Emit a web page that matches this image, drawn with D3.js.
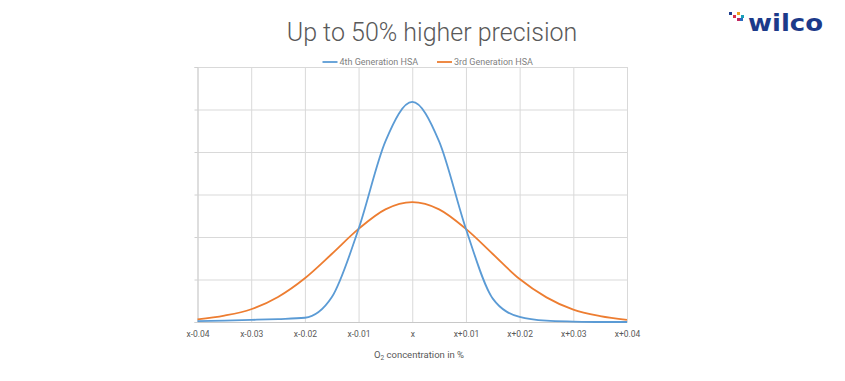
<!DOCTYPE html>
<html>
<head>
<meta charset="utf-8">
<script src="https://cdn.jsdelivr.net/npm/d3@7"></script>
<style>
  html, body { margin: 0; padding: 0; background: #ffffff; }
  svg { display: block; }
</style>
</head>
<body>
<svg id="chart" width="845" height="381"></svg>
<script>
// ---- data ----
const xOffsets = [-0.04, -0.035, -0.03, -0.025, -0.02, -0.015, -0.01, -0.005, 0,
                  0.005, 0.01, 0.015, 0.02, 0.025, 0.03, 0.035, 0.04];
const gen4Values = [0.02, 0.03, 0.05, 0.07, 0.10, 0.58, 2.19, 4.25, 5.18,
                    4.25, 2.19, 0.55, 0.12, 0.03, 0.01, 0.0, 0.0];
const gen3Values = [0.06, 0.15, 0.30, 0.59, 1.03, 1.60, 2.19, 2.65, 2.82,
                    2.65, 2.19, 1.60, 1.01, 0.58, 0.29, 0.14, 0.05];
const tickValues = [-0.04, -0.03, -0.02, -0.01, 0, 0.01, 0.02, 0.03, 0.04];
const tickLabels = ["x-0.04", "x-0.03", "x-0.02", "x-0.01", "x", "x+0.01", "x+0.02", "x+0.03", "x+0.04"];
const yGridValues = [0, 1, 2, 3, 4, 5, 6];
const seriesNames = ["4th Generation HSA", "3rd Generation HSA"];
const seriesColors = ["#5b9bd5", "#ed7d31"];
const titleText = "Up to 50% higher precision";

// ---- layout ----
const svg = d3.select("#chart");
const plot = { left: 197.5, right: 627, top: 67, bottom: 322 };

const x = d3.scaleLinear().domain([-0.04, 0.04]).range([plot.left, plot.right]);
const y = d3.scaleLinear().domain([0, 6]).range([plot.bottom, plot.top]);

const font = "Roboto, 'Open Sans', sans-serif";

// title
svg.append("text")
  .attr("x", 432).attr("y", 41)
  .attr("text-anchor", "middle")
  .attr("font-family", font)
  .attr("font-weight", 300)
  .attr("font-size", 25)
  .attr("fill", "#595959")
  .text(titleText);

// gridlines (horizontal)
const g = svg.append("g");
g.append("g")
  .attr("transform", `translate(${plot.left},0)`)
  .call(d3.axisLeft(y).tickValues(yGridValues).tickSize(-(plot.right - plot.left)).tickFormat(""))
  .call(s => s.select(".domain").remove())
  .call(s => s.selectAll(".tick line").attr("stroke", "#d9d9d9").attr("stroke-width", 1));

// gridlines (vertical)
g.append("g")
  .attr("transform", `translate(0,${plot.top})`)
  .call(d3.axisTop(x).tickValues(tickValues).tickSize(-(plot.bottom - plot.top)).tickFormat(""))
  .call(s => s.select(".domain").remove())
  .call(s => s.selectAll(".tick line").attr("stroke", "#d9d9d9").attr("stroke-width", 1));

// small left tick marks
g.append("g")
  .attr("transform", `translate(${plot.left},0)`)
  .call(d3.axisLeft(y).tickValues(yGridValues).tickSize(3).tickFormat(""))
  .call(s => s.select(".domain").attr("stroke", "#d0d0d0"))
  .call(s => s.selectAll(".tick line").attr("stroke", "#d0d0d0"));

// bottom axis with labels
const xAxis = svg.append("g")
  .attr("transform", `translate(0,${plot.bottom})`)
  .call(d3.axisBottom(x).tickValues(tickValues).tickSize(0).tickPadding(9)
        .tickFormat((d, i) => tickLabels[i]));
xAxis.select(".domain").attr("stroke", "#c8c8c8");
xAxis.selectAll("text")
  .attr("font-family", font)
  .attr("font-size", 8.5)
  .attr("fill", "#595959");

// axis title with subscript
const at = svg.append("text")
  .attr("x", 419).attr("y", 358)
  .attr("text-anchor", "middle")
  .attr("font-family", font)
  .attr("font-size", 9.5)
  .attr("fill", "#595959");
at.append("tspan").text("O");
at.append("tspan").attr("font-size", 6.5).attr("dy", 2).text("2");
at.append("tspan").attr("dy", -2).text(" concentration in %");

// lines
const line = d3.line()
  .x((d, i) => x(xOffsets[i]))
  .y(d => y(d))
  .curve(d3.curveMonotoneX);

[gen3Values, gen4Values].forEach((vals, k) => {
  const idx = k === 0 ? 1 : 0;
  svg.append("path")
    .datum(vals)
    .attr("fill", "none")
    .attr("stroke", seriesColors[idx])
    .attr("stroke-width", 1.8)
    .attr("stroke-linejoin", "round")
    .attr("d", line);
});

// legend
const legendItems = [
  { name: seriesNames[0], color: seriesColors[0], x0: 322.5 },
  { name: seriesNames[1], color: seriesColors[1], x0: 437 }
];
legendItems.forEach(it => {
  svg.append("line")
    .attr("x1", it.x0).attr("x2", it.x0 + 15)
    .attr("y1", 62).attr("y2", 62)
    .attr("stroke", it.color).attr("stroke-width", 1.8);
  svg.append("text")
    .attr("x", it.x0 + 17).attr("y", 65)
    .attr("font-family", font)
    .attr("font-size", 9)
    .attr("fill", "#7f7f7f")
    .text(it.name);
});

// logo
const logo = svg.append("g");
const squares = [
  { x: 729, y: 12, c: "#1f3f8f" },
  { x: 737, y: 12, c: "#f0a020" },
  { x: 733, y: 15, c: "#d8304a" },
  { x: 741, y: 15, c: "#1aa0b8" },
  { x: 737, y: 18, c: "#c02860" },
  { x: 740, y: 18, c: "#2a6ac0" }
];
logo.selectAll("rect").data(squares).join("rect")
  .attr("x", d => d.x).attr("y", d => d.y)
  .attr("width", 3).attr("height", 3)
  .attr("fill", d => d.c);
logo.append("text")
  .attr("x", 748).attr("y", 31)
  .attr("font-family", "'DejaVu Sans', sans-serif")
  .attr("font-weight", "bold")
  .attr("font-size", 23)
  .attr("textLength", 75)
  .attr("lengthAdjust", "spacingAndGlyphs")
  .attr("fill", "#1c3a8a")
  .text("wilco");
</script>
</body>
</html>
